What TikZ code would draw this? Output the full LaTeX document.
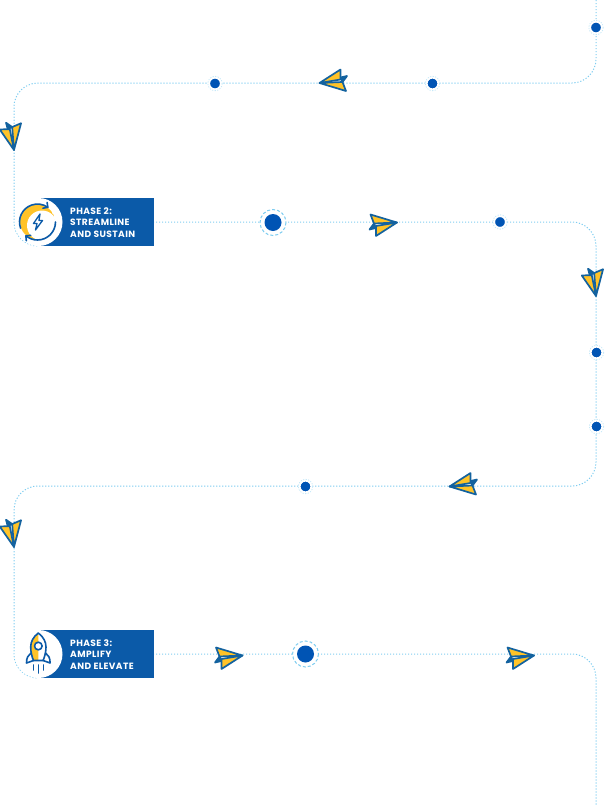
\documentclass[tikz,border=0pt]{standalone}
\usepackage{fontspec}
\setmainfont{Poppins}[LetterSpace=4.5]
\definecolor{flowc}{HTML}{7FCDF0}
\definecolor{dotc}{HTML}{0054B4}
\definecolor{boxc}{HTML}{0B5AA8}
\definecolor{planeb}{HTML}{13629F}
\definecolor{planey}{HTML}{FFC328}
\tikzset{
 flow/.style={draw=flowc,line width=1pt,dash pattern=on 1.2pt off 1.8pt},
 smalldot/.style={circle,fill=dotc,draw=white,line width=2.2pt,minimum size=12pt,inner sep=0pt,outer sep=0pt},
 bigdot/.style={circle,fill=dotc,minimum size=17pt,inner sep=0pt,outer sep=0pt},
 halo/.style={draw=flowc,line width=1pt,dash pattern=on 3pt off 2pt,fill=white},
 finehalo/.style={draw=flowc!45,line width=.8pt,dash pattern=on 1.2pt off 1.4pt},
 phasebox/.style={fill=boxc,minimum width=114pt,minimum height=48pt,inner sep=0pt,outer sep=0pt},
 phasetxt/.style={text=white,font=\bfseries\fontsize{9.1}{11.6}\selectfont,align=left,anchor=west,inner sep=0pt},
 iconline/.style={draw=boxc,line width=1.6pt,line join=round,line cap=round},
 plane/.pic={
  \filldraw[fill=planeb,draw=planeb,line width=1.7pt,line join=round]
   (-9,1) -- (-13.5,7) -- (-7,5.5) -- cycle;
  \filldraw[fill=planey,draw=planeb,line width=1.7pt,line join=round]
   (-12.5,-8) -- (14,0) -- (-9,1) -- cycle;
  \filldraw[fill=planey,draw=planeb,line width=1.7pt,line join=round]
   (14,0) -- (-7,13.5) -- (-7,3.5) -- cycle;
 }
}
\begin{document}
\begin{tikzpicture}[x=1pt,y=-1pt]
\useasboundingbox (0,0) rectangle (605,806);
% route coordinates
\coordinate (r0) at (596,0);
\coordinate (r1) at (596,83);
\coordinate (r2) at (14,83);
\coordinate (r3) at (14,246);
\coordinate (r3b) at (38,246);
\coordinate (r4) at (150,222);
\coordinate (r5) at (596,222);
\coordinate (r6) at (596,486);
\coordinate (r7) at (14,486);
\coordinate (r8) at (14,678);
\coordinate (r8b) at (38,678);
\coordinate (r9) at (150,654);
\coordinate (r10) at (596,654);
\coordinate (r11) at (596,806);
\draw[flow,rounded corners=24pt] (r0) -- (r1) -- (r2) -- (r3) -- (r3b);
\draw[flow,rounded corners=24pt] (r4) -- (r5) -- (r6) -- (r7) -- (r8) -- (r8b);
\draw[flow,rounded corners=24pt] (r9) -- (r10) -- (r11);
% dots
\node[smalldot] (d1) at (596,27.5) {};
\node[smalldot] (d2) at (215,83.5) {};
\node[smalldot] (d3) at (432.5,83.5) {};
\node[smalldot] (d4) at (500,222) {};
\node[smalldot] (d5) at (596.5,352.5) {};
\node[smalldot] (d6) at (596.5,426.5) {};
\node[smalldot] (d7) at (305.5,486.5) {};
\foreach \d in {d1,d2,d3,d4,d5,d6,d7} \draw[finehalo] (\d) circle (7.2);
\draw[halo] (273,222.5) circle (13);
\node[bigdot] (b1) at (273,222.5) {};
\draw[halo] (305.5,654) circle (13);
\node[bigdot] (b2) at (305.5,654) {};
% planes
\pic[rotate=180] at (333.5,83) {plane};
\pic[rotate=-88] at (13.5,136) {plane};
\pic at (383,222.5) {plane};
\pic[rotate=-88] at (595.5,282) {plane};
\pic[rotate=180] at (463.5,486.5) {plane};
\pic[rotate=-88] at (13.5,533) {plane};
\pic at (228.5,655.5) {plane};
\pic at (520,655.5) {plane};
% phase 2
\node[phasebox,anchor=east] (p2) at (153.5,222) {};
\fill[white] (38.5,222) circle (24);
\node[phasetxt] (t2) at (70,222.3) {PHASE 2:\\STREAMLINE\\AND SUSTAIN};
\begin{scope}
\clip (37.5,222) circle (17.5);
\fill[planey] (37.5,222) circle (17.5);
\fill[white] (42,225.5) circle (15);
\end{scope}
\draw[iconline] (20.6,228.2) arc (160:305:18);
\draw[iconline] (55.5,222) arc (0:130:18);
\draw[iconline] (47.1,202.4) -- (47.8,207.3) -- (42.9,208.2);
\draw[iconline] (26.3,240.7) -- (25.9,235.8) -- (30.8,235.4);
\draw[draw=boxc,line width=1.3pt,line join=round,fill=white] (40,214) -- (33.5,223.5) -- (37,223.5) -- (35.5,230) -- (42.5,220.5) -- (39,220.5) -- cycle;
% phase 3
\node[phasebox,anchor=east] (p3) at (153.5,654) {};
\fill[white] (38.5,654) circle (24);
\node[phasetxt] (t3) at (70,654.3) {PHASE 3:\\AMPLIFY\\AND ELEVATE};
\fill[planey] (38.3,633) .. controls (33,637) and (30.7,642) .. (30.7,647) .. controls (30.7,652) and (32,657) .. (33.5,660.5) -- (38.3,660.5) -- cycle;
\draw[iconline] (38.3,633) .. controls (33,637) and (30.7,642) .. (30.7,647) .. controls (30.7,652) and (32,657) .. (33.5,660.5) -- (43.1,660.5) .. controls (44.6,657) and (46,652) .. (46,647) .. controls (46,642) and (43.6,637) .. (38.3,633) -- cycle;
\draw[iconline,fill=white] (38.3,646) circle (3.8);
\draw[iconline] (31,653) .. controls (28,655) and (26.5,658) .. (26.5,663) -- (33.5,660.5);
\draw[iconline] (45.6,653) .. controls (48.6,655) and (50.1,658) .. (50.1,663) -- (43.1,660.5);
\draw[iconline] (33.3,665) -- (33.3,670) (38.3,665) -- (38.3,673) (43.3,665) -- (43.3,670);
\end{tikzpicture}
\end{document}
